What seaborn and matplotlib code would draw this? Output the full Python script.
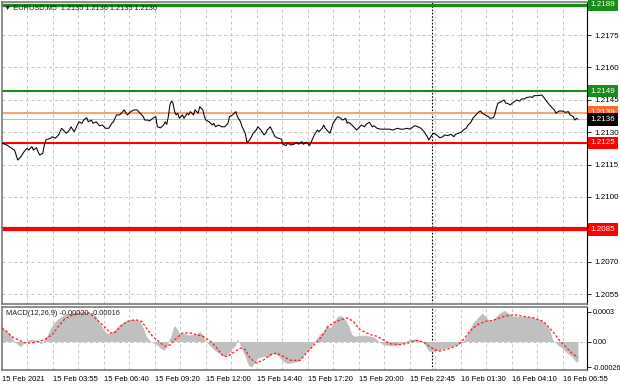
import numpy as np
import pandas as pd
import matplotlib
matplotlib.use('Agg')
import matplotlib.pyplot as plt
import matplotlib.transforms as mtransforms
import seaborn as sns

# ─────────────────────────────────────────────
# DATA  (EURUSD M5, bar index from left edge)
# ─────────────────────────────────────────────
price_bar = [0, 3, 6, 8, 10, 12, 14, 16, 17, 19, 20, 22, 23, 24, 26, 27, 28, 31, 32, 34,
             36, 37, 38, 40, 41, 43, 44, 46, 48, 49, 51, 52, 54, 55, 57, 58, 60, 62, 64, 66,
             68, 70, 71, 73, 75, 76, 78, 79, 80, 82, 84, 86, 88, 90, 91, 93, 94, 96, 98, 99,
             101, 103, 104, 105, 106, 107, 108, 109, 110, 111, 112, 113, 115, 116, 118, 119, 120, 122, 123, 125,
             126, 128, 129, 130, 132, 134, 135, 136, 138, 140, 142, 144, 145, 147, 148, 149, 150, 152, 153, 155,
             156, 157, 159, 160, 162, 163, 165, 167, 168, 169, 171, 173, 174, 176, 178, 179, 181, 182, 184, 186,
             188, 189, 191, 192, 194, 196, 197, 199, 201, 202, 204, 205, 206, 208, 209, 211, 213, 214, 216, 217,
             219, 220, 221, 223, 224, 226, 228, 229, 231, 232, 234, 236, 237, 239, 241, 243, 245, 247, 249, 252,
             254, 256, 258, 260, 262, 263, 265, 267, 269, 271, 272, 274, 275, 277, 279, 281, 282, 284, 286, 288,
             289, 291, 293, 294, 296, 297, 299, 300, 302, 304, 305, 306, 308, 310, 311, 313, 314, 315, 316, 318,
             320, 321, 322, 324, 325, 327, 328, 330, 331, 333, 334, 337, 338, 339, 341, 344, 345, 347, 348, 350,
             352, 353, 355, 357, 359, 361, 362, 364, 365, 366, 367]
price_val = [1.21249, 1.21241, 1.21226, 1.21217, 1.21171, 1.21186, 1.21209, 1.21226, 1.21217, 1.21233,
             1.21217, 1.21228, 1.21209, 1.21194, 1.21202, 1.21241, 1.21264, 1.21272, 1.21279, 1.21272,
             1.21287, 1.21302, 1.21318, 1.21302, 1.21295, 1.21310, 1.21325, 1.21302, 1.21333, 1.21348,
             1.21341, 1.21356, 1.21367, 1.21348, 1.21356, 1.21341, 1.21348, 1.21330, 1.21333, 1.21318,
             1.21318, 1.21341, 1.21348, 1.21380, 1.21380, 1.21388, 1.21403, 1.21388, 1.21380, 1.21395,
             1.21403, 1.21403, 1.21388, 1.21372, 1.21356, 1.21356, 1.21352, 1.21364, 1.21372, 1.21325,
             1.21320, 1.21333, 1.21348, 1.21336, 1.21372, 1.21426, 1.21444, 1.21434, 1.21395, 1.21380,
             1.21388, 1.21364, 1.21380, 1.21364, 1.21388, 1.21380, 1.21395, 1.21380, 1.21403, 1.21388,
             1.21418, 1.21403, 1.21372, 1.21356, 1.21348, 1.21333, 1.21341, 1.21325, 1.21333, 1.21325,
             1.21325, 1.21341, 1.21372, 1.21380, 1.21388, 1.21395, 1.21372, 1.21348, 1.21325, 1.21295,
             1.21256, 1.21256, 1.21279, 1.21295, 1.21310, 1.21325, 1.21310, 1.21287, 1.21295, 1.21310,
             1.21325, 1.21295, 1.21279, 1.21272, 1.21268, 1.21244, 1.21238, 1.21249, 1.21241, 1.21244,
             1.21253, 1.21244, 1.21256, 1.21244, 1.21253, 1.21238, 1.21253, 1.21287, 1.21310, 1.21302,
             1.21318, 1.21333, 1.21318, 1.21302, 1.21295, 1.21341, 1.21364, 1.21372, 1.21364, 1.21356,
             1.21364, 1.21341, 1.21346, 1.21333, 1.21325, 1.21310, 1.21325, 1.21333, 1.21325, 1.21336,
             1.21346, 1.21325, 1.21330, 1.21318, 1.21314, 1.21314, 1.21314, 1.21314, 1.21310, 1.21318,
             1.21314, 1.21314, 1.21318, 1.21314, 1.21325, 1.21330, 1.21325, 1.21318, 1.21302, 1.21279,
             1.21264, 1.21287, 1.21295, 1.21287, 1.21274, 1.21279, 1.21287, 1.21284, 1.21290, 1.21279,
             1.21290, 1.21295, 1.21302, 1.21310, 1.21320, 1.21333, 1.21348, 1.21364, 1.21380, 1.21395,
             1.21398, 1.21388, 1.21380, 1.21372, 1.21364, 1.21367, 1.21380, 1.21411, 1.21434, 1.21441,
             1.21449, 1.21434, 1.21434, 1.21426, 1.21434, 1.21444, 1.21449, 1.21444, 1.21454, 1.21454,
             1.21460, 1.21464, 1.21460, 1.21469, 1.21469, 1.21472, 1.21464, 1.21444, 1.21434, 1.21418,
             1.21403, 1.21388, 1.21398, 1.21398, 1.21392, 1.21395, 1.21380, 1.21372, 1.21356, 1.21364,
             1.21360]

hist_bar = [0, 2, 4, 6, 8, 10, 12, 14, 16, 18, 20, 22, 24, 25, 27, 29, 31, 33, 35, 38,
            41, 44, 48, 52, 56, 60, 62, 65, 67, 69, 72, 75, 78, 82, 85, 88, 90, 92, 94, 96,
            99, 101, 103, 105, 106, 108, 109, 110, 112, 113, 116, 118, 121, 124, 126, 128, 129, 130, 133, 135,
            138, 141, 144, 146, 149, 150, 151, 153, 155, 157, 159, 161, 163, 167, 170, 173, 176, 179, 182, 186,
            189, 191, 194, 198, 202, 205, 207, 209, 211, 214, 216, 219, 221, 223, 225, 228, 232, 237, 240, 243,
            247, 252, 256, 259, 262, 266, 268, 270, 272, 275, 279, 283, 288, 292, 294, 297, 300, 304, 306, 309,
            311, 314, 317, 320, 322, 325, 330, 337, 342, 346, 349, 351, 354, 357, 360, 363, 366, 367]
hist_val = [0.000136, 0.000119, 0.000086, 0.000053, 0.0, -0.000032, -0.000049, -0.000015, 0.000005, 0.000025,
            0.000018, 0.000012, -0.000015, -0.000025, 0.000018, 0.000069, 0.000136, 0.000187, 0.000220, 0.000255,
            0.000281, 0.000288, 0.000288, 0.000288, 0.000288, 0.000255, 0.000187, 0.000119, 0.000079, 0.000086,
            0.000119, 0.000170, 0.000204, 0.000227, 0.000220, 0.000204, 0.000136, 0.000053, 0.000012, -0.000008,
            -0.000035, -0.000069, -0.000086, -0.000056, 0.0, 0.000069, 0.000136, 0.000160, 0.000119, 0.000079,
            0.000086, 0.000069, 0.000069, 0.000079, 0.000103, 0.000069, 0.000025, 0.0, -0.000049, -0.000083,
            -0.000116, -0.000143, -0.000133, -0.000083, -0.000035, 0.000025, 0.0, -0.000083, -0.000150, -0.000238,
            -0.000258, -0.000214, -0.000167, -0.000150, -0.000157, -0.000116, -0.000143, -0.000200, -0.000224, -0.000210,
            -0.000200, -0.000160, -0.000100, -0.000035, 0.000069, 0.000103, 0.000170, 0.000136, 0.000187, 0.000255,
            0.000261, 0.000220, 0.000154, 0.000069, 0.000053, 0.000063, 0.000063, 0.000045, 0.0, -0.000032,
            -0.000042, -0.000038, -0.000015, 0.000018, 0.000025, 0.000018, 0.0, -0.000049, -0.000099, -0.000099,
            -0.000083, -0.000066, -0.000042, -0.000022, 0.0, 0.000086, 0.000187, 0.000255, 0.000288, 0.000238,
            0.000204, 0.000238, 0.000288, 0.000315, 0.000295, 0.000261, 0.000255, 0.000248, 0.000227, 0.000187,
            0.000119, 0.000018, -0.000032, -0.000066, -0.000116, -0.000150, -0.000210, -0.000200]

signal_bar = [0, 3, 6, 10, 15, 19, 23, 27, 32, 36, 40, 44, 50, 56, 60, 65, 69, 72, 76, 80,
              85, 89, 92, 96, 101, 104, 107, 110, 115, 120, 124, 128, 133, 137, 141, 144, 147, 152, 155, 158,
              162, 167, 171, 175, 179, 184, 190, 196, 203, 208, 213, 220, 224, 228, 235, 239, 243, 247, 254, 259,
              264, 269, 273, 278, 283, 290, 294, 298, 303, 308, 313, 320, 326, 332, 339, 345, 350, 355, 359, 363,
              367]
signal_val = [0.000136, 0.000103, 0.000053, 0.000018, -0.000015, -0.000015, 0.0, 0.000018, 0.000069, 0.000154,
              0.000227, 0.000261, 0.000288, 0.000288, 0.000227, 0.000154, 0.000086, 0.000093, 0.000160, 0.000204,
              0.000220, 0.000204, 0.000136, 0.000053, -0.000015, -0.000049, -0.000035, 0.000018, 0.000086, 0.000086,
              0.000069, 0.000053, 0.0, -0.000066, -0.000150, -0.000150, -0.000116, -0.000066, -0.000083, -0.000167,
              -0.000217, -0.000184, -0.000133, -0.000116, -0.000150, -0.000190, -0.000190, -0.000083, 0.000035, 0.000154,
              0.000204, 0.000238, 0.000204, 0.000119, 0.000069, 0.000053, 0.000018, -0.000022, -0.000032, -0.000015,
              0.000012, -0.000008, -0.000056, -0.000099, -0.000083, -0.000042, 0.000018, 0.000103, 0.000170, 0.000204,
              0.000214, 0.000255, 0.000271, 0.000255, 0.000238, 0.000204, 0.000119, 0.000018, -0.000049, -0.000116,
              -0.000160]

# horizontal levels
level_vals   = [1.2189, 1.2149, 1.2139, 1.2125, 1.2085]
level_lines  = ['#1a8a1a', '#1a8a1a', '#f7a47e', '#ff0000', '#ff0000']
level_boxes  = ['#1a8a1a', '#1a8a1a', '#ff6a33', '#ff0000', '#ff0000']
level_widths = [2.4, 1.5, 1.5, 1.5, 3.0]
bid = 1.2136

price_ticks = [1.2175, 1.2160, 1.2145, 1.2130, 1.2115, 1.2100, 1.2070, 1.2055]
grid_prices = [1.2175, 1.2160, 1.2145, 1.2130, 1.2115, 1.2100, 1.2085, 1.2070, 1.2055]
macd_ticks = [0.0003, 0.0, -0.00026]
macd_tick_labels = ['0.0003', '0.00', '-0.00026']

time_labels = ['15 Feb 2021', '15 Feb 03:55', '15 Feb 06:40', '15 Feb 09:20', '15 Feb 12:00',
               '15 Feb 14:40', '15 Feb 17:20', '15 Feb 20:00', '15 Feb 22:45', '16 Feb 01:30',
               '16 Feb 04:10', '16 Feb 06:55']
bars_per_label = 32.5
day_separator = 274

# ─────────────────────────────────────────────
# FIGURE
# ─────────────────────────────────────────────
sns.set_style('white')
plt.rcParams['font.family'] = ['Liberation Sans', 'DejaVu Sans']

W, H = 620, 388
fig = plt.figure(figsize=(W / 100, H / 100), dpi=100)
ax = fig.add_axes([2 / W, 1 - 304 / H, 585 / W, 302 / H])
axm = fig.add_axes([2 / W, 1 - 370 / H, 585 / W, 63 / H])

label_pos = [i * bars_per_label for i in range(len(time_labels))]
grid_pos = [i * bars_per_label / 2 for i in range(1, 2 * len(time_labels))]
grid_kw = dict(color='#c4c4c4', lw=0.7, ls=(0, (3, 3)))

for a in (ax, axm):
    a.set_xlim(0, 372.8)
    for g in grid_pos:
        a.axvline(g, zorder=0, **grid_kw)
    a.axvline(day_separator, color='black', lw=0.8, ls=(0, (1.5, 1.5)), zorder=1)
    for s in ['left', 'top', 'bottom']:
        a.spines[s].set_color('#7a7a7a')
        a.spines[s].set_linewidth(1.2)
    a.spines['right'].set_color('black')
    a.spines['right'].set_linewidth(0.8)

# ── main price panel
for g in grid_prices:
    ax.axhline(g, zorder=0, **grid_kw)

ax.axhline(bid, color='#c0c0c0', lw=0.7, zorder=1)
for v, c, lw in zip(level_vals, level_lines, level_widths):
    ax.axhline(v, color=c, lw=lw, zorder=2)

df_price = pd.DataFrame({'bar': price_bar, 'price': price_val})
sns.lineplot(data=df_price, x='bar', y='price', ax=ax, color='black', lw=0.75, zorder=3)

ax.set_ylim(1.20504, 1.21903)
ax.yaxis.tick_right()
ax.set_yticks(price_ticks)
ax.set_yticklabels([f'{t:.4f}' for t in price_ticks])
ax.tick_params(axis='y', direction='out', length=3, width=0.6, pad=2, labelsize=5.8, colors='black')
ax.set_xticks([])
ax.set_xlabel('')
ax.set_ylabel('')

trans = mtransforms.blended_transform_factory(ax.transAxes, ax.transData)
for v, c in zip(level_vals + [bid], level_boxes + ['black']):
    ax.text(1.006, v, f'{v:.4f}', transform=trans, ha='left', va='center',
            fontsize=5.8, color='white', clip_on=False, zorder=5,
            bbox=dict(boxstyle='square,pad=0.35', fc=c, ec='none'))

ax.text(0.003, 0.983, '\u25bc EURUSD,M5  1.2135 1.2136 1.2135 1.2136', transform=ax.transAxes,
        ha='left', va='center', fontsize=5.3, color='#202020', zorder=6)

# ── MACD panel
axm.axhline(0, zorder=0, **grid_kw)
axm.fill_between(hist_bar, 0, hist_val, color='#c0c0c0', lw=0, zorder=2)
df_sig = pd.DataFrame({'bar': signal_bar, 'signal': signal_val})
sns.lineplot(data=df_sig, x='bar', y='signal', ax=axm, color='#ff1a1a', lw=0.9,
             ls=(0, (2, 1.5)), zorder=3)

axm.set_ylim(-0.000288, 0.000349)
axm.yaxis.tick_right()
axm.set_yticks(macd_ticks)
axm.set_yticklabels(macd_tick_labels)
axm.tick_params(axis='y', direction='out', length=3, width=0.6, pad=1, labelsize=5.2, colors='black')
axm.set_xticks(label_pos)
axm.set_xticklabels(time_labels, ha='left')
axm.tick_params(axis='x', direction='out', length=3, width=0.6, pad=1.5, labelsize=5.5, colors='black')
axm.set_xlabel('')
axm.set_ylabel('')

axm.text(0.007, 0.895, 'MACD(12,26,9) -0.00020 -0.00016', transform=axm.transAxes,
         ha='left', va='center', fontsize=5.3, color='#202020', zorder=6)

plt.savefig('out.png', dpi=100)
